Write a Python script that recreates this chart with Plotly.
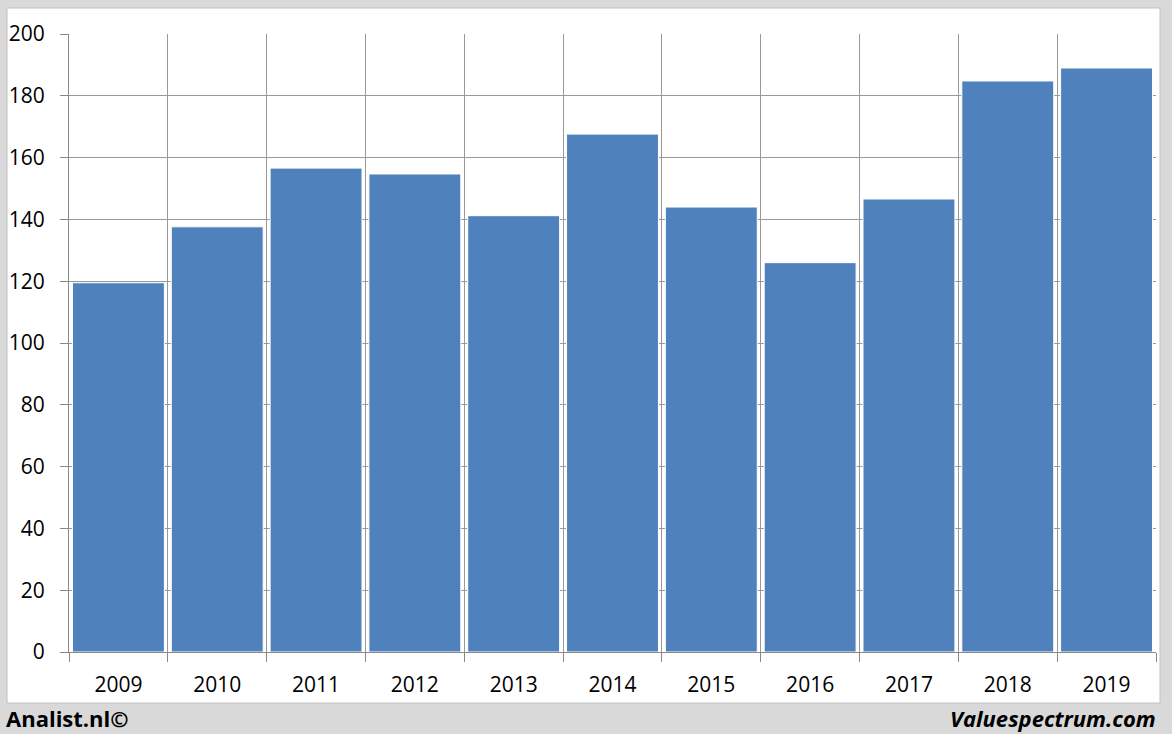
import plotly.graph_objects as go

years = ["2009", "2010", "2011", "2012", "2013", "2014", "2015", "2016", "2017", "2018", "2019"]
values = [119.5, 137.6, 156.6, 154.7, 141.2, 167.6, 144.0, 126.0, 146.6, 184.8, 189.0]
y_ticks = [0, 20, 40, 60, 80, 100, 120, 140, 160, 180, 200]

W, H = 1172, 734
fig = go.Figure()
fig.add_trace(go.Bar(
    x=years, y=values,
    marker=dict(color="#4f81bd", line=dict(color="#ffffff", width=1)),
))

font_family = "Open Sans, Liberation Sans, sans-serif"
fig.update_layout(
    width=W, height=H,
    margin=dict(l=69, r=16, t=34, b=82),
    paper_bgcolor="#d9d9d9",
    plot_bgcolor="#ffffff",
    bargap=0.07,
    showlegend=False,
    font=dict(family=font_family, size=21, color="#000000"),
    xaxis=dict(
        type="category",
        tickson="boundaries",
        ticks="outside", ticklen=9, tickcolor="#888888", tickwidth=1,
        showgrid=True, gridcolor="#999999", gridwidth=1,
        showline=True, linecolor="#888888", linewidth=1,
        tickfont=dict(size=21),
        ticklabelstandoff=14,
        automargin=False,
        fixedrange=True,
    ),
    yaxis=dict(
        range=[0, 200],
        tickvals=y_ticks,
        ticks="outside", ticklen=8, tickcolor="#888888", tickwidth=1,
        showgrid=True, gridcolor="#999999", gridwidth=1,
        showline=True, linecolor="#888888", linewidth=1,
        zeroline=False,
        tickfont=dict(size=21),
        ticklabelstandoff=11,
        automargin=False,
        fixedrange=True,
    ),
    shapes=[
        dict(type="rect", xref="paper", yref="paper", layer="below",
             x0=-62 / 1087, x1=(1160 - 69) / 1087,
             y0=(652 - 703) / 618, y1=(652 - 8) / 618,
             fillcolor="#ffffff", line=dict(color="#c0c0c0", width=1)),
    ],
    annotations=[
        dict(text="<b>Analist.nl©</b>", xref="paper", yref="paper",
             x=-65 / 1087, y=(652 - 718) / 618, xanchor="left", yanchor="middle",
             showarrow=False, font=dict(size=22, family=font_family)),
        dict(text="<b><i>Valuespectrum.com</i></b>", xref="paper", yref="paper",
             x=(1158 - 69) / 1087, y=(652 - 718) / 618, xanchor="right", yanchor="middle",
             showarrow=False, font=dict(size=22, family=font_family)),
    ],
)

fig.write_html(
    "out.html",
    config={"displayModeBar": False},
    post_script="document.body.style.margin='0';document.body.style.padding='0';document.body.style.overflow='hidden';",
)
